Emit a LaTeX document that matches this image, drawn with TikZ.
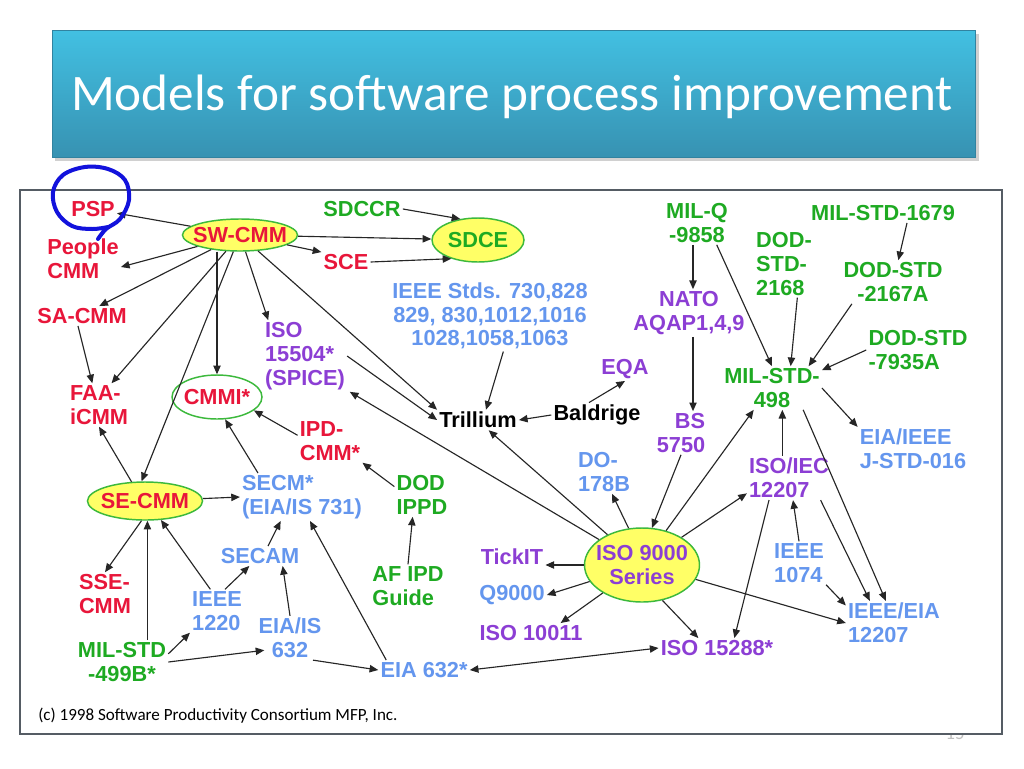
\documentclass[tikz,border=0pt]{standalone}
\usepackage{fontspec}
\setmainfont{Liberation Sans}
\newfontfamily\calibri{Carlito}
\usetikzlibrary{shapes.geometric,arrows.meta}
\definecolor{cred}{RGB}{232,22,58}
\definecolor{cgreen}{RGB}{30,170,34}
\definecolor{cpurple}{RGB}{140,62,212}
\definecolor{cblue}{RGB}{100,150,238}
\definecolor{cyell}{RGB}{255,255,102}
\definecolor{cring}{RGB}{60,185,60}
\definecolor{cpen}{RGB}{18,18,220}
\definecolor{tbtop}{RGB}{66,192,226}
\definecolor{tbbot}{RGB}{55,146,178}
\definecolor{cframe}{RGB}{85,92,100}
\tikzset{
  lbl/.style={font=\bfseries\fontsize{16.3}{17.8}\selectfont, inner sep=1.5pt, align=center},
  tr/.style={lbl, text=cred},
  tg/.style={lbl, text=cgreen},
  tp/.style={lbl, text=cpurple},
  tb/.style={lbl, text=cblue},
  tk/.style={lbl, text=black},
  ell/.style={ellipse, draw=cring, fill=cyell, line width=1.1pt, inner sep=0pt},
  arr/.style={-{Triangle[length=6.5pt,width=5.5pt]}, line width=0.85pt, draw=black!85},
  arrtwo/.style={{Triangle[length=6.5pt,width=5.5pt]}-{Triangle[length=6.5pt,width=5.5pt]}, line width=0.85pt, draw=black!85}
}
\begin{document}
\begin{tikzpicture}[x=0.75pt,y=-0.75pt]
\useasboundingbox (0,0) rectangle (1024,768);
\fill[white] (0,0) rectangle (1024,768);
% title bar
\fill[black!30, opacity=0.6] (55,34) rectangle (979,161);
\shade[top color=tbtop, bottom color=tbbot, draw=tbbot!90!black, line width=0.5pt] (52,30) rectangle (975,157);
\node[font=\calibri\fontsize{38.4}{44}\selectfont, text=white, inner sep=0pt] (title) at (512,97) {Models for software process improvement};
% page number (mostly hidden)
\node[font=\calibri\fontsize{14}{16}\selectfont, text=black!25, inner sep=0pt] (pagenum) at (955,734) {15};
% frame
\draw[cframe, line width=1.5pt, fill=white] (20,190) rectangle (1002,734);
% copyright
\node[anchor=west, font=\calibri\fontsize{12.8}{15}\selectfont, inner sep=0pt] (copy) at (38,716) {(c) 1998 Software Productivity Consortium MFP, Inc.};

% ellipses
\node[ell, minimum width=86.25pt, minimum height=24pt] (swcmm) at (240,235) {};
\node[tr] (swcmmT) at (swcmm) {SW-CMM};
\node[ell, fill=white, minimum width=67.5pt, minimum height=33pt] (cmmi) at (217,397) {};
\node[tr] (cmmiT) at (cmmi) {CMMI*};
\node[ell, minimum width=69pt, minimum height=33pt] (sdce) at (478,240) {};
\node[tg] (sdceT) at (sdce) {SDCE};
\node[ell, minimum width=86.25pt, minimum height=28.5pt] (secmm) at (145,501) {};
\node[tr] (secmmT) at (secmm) {SE-CMM};
\node[ell, minimum width=86.25pt, minimum height=55.5pt] (iso9000) at (642,565) {};
\node[tp] (iso9000T) at (iso9000) {ISO 9000\\Series};

% text nodes
\node[tr] (psp) at (93,209) {PSP};
\node[tr, align=left] (people) at (83,259) {People\\CMM};
\node[tr] (sacmm) at (82,316) {SA-CMM};
\node[tr, align=left] (faa) at (99,405) {FAA-\\iCMM};
\node[tp, align=left] (iso15504) at (305,356) {ISO\\15504*\\(SPICE)};
\node[tg] (sdccr) at (362,209) {SDCCR};
\node[tr] (sce) at (346,262) {SCE};
\node[tb] (ieeestds) at (490,316) {IEEE Stds. 730,828\\829, 830,1012,1016\\1028,1058,1063};
\node[tk] (trillium) at (478,420) {Trillium};
\node[tk] (baldrige) at (597,415) {Baldrige};
\node[tp] (eqa) at (625,369) {EQA};
\node[tg] (milq) at (697,223) {MIL-Q\\-9858};
\node[tp] (nato) at (689,313) {NATO\\AQAP1,4,9};
\node[tp, align=right] (bs5750) at (681,433) {BS\\5750};
\node[tg, align=left] (dod2168) at (784,264) {DOD-\\STD-\\2168};
\node[tg] (mil1679) at (883,213) {MIL-STD-1679};
\node[tg] (dod2167) at (893,282) {DOD-STD\\-2167A};
\node[tg, align=left] (dod7935) at (918,350) {DOD-STD\\-7935A};
\node[tg] (milstd498) at (772,388) {MIL-STD-\\498};
\node[tb, align=left] (eiaieee) at (913,449) {EIA/IEEE\\J-STD-016};
\node[tp, align=left] (iso12207) at (789,478) {ISO/IEC\\12207};
\node[tb, align=left] (ieee1074) at (799,563) {IEEE\\1074};
\node[tb, align=left] (ieeeeia) at (894,623) {IEEE/EIA\\12207};
\node[tp] (iso15288) at (717,648) {ISO 15288*};
\node[tb, align=left] (do178b) at (604,472) {DO-\\178B};
\node[tp] (tickit) at (512,557) {TickIT};
\node[tb] (q9000) at (512,595) {Q9000};
\node[tp] (iso10011) at (531,633) {ISO 10011};
\node[tb] (eia632s) at (424,670) {EIA 632*};
\node[tg, align=left] (afipd) at (408,586) {AF IPD\\Guide};
\node[tg, align=left] (dodippd) at (422,495) {DOD\\IPPD};
\node[tr, align=left] (ipdcmm) at (330,441) {IPD-\\CMM*};
\node[tb, align=left] (secm) at (302,497) {SECM*\\(EIA/IS 731)};
\node[tr, align=left] (ssecmm) at (105,594) {SSE-\\CMM};
\node[tb] (secam) at (260,556) {SECAM};
\node[tb, align=left] (ieee1220) at (217,611) {IEEE\\1220};
\node[tb] (eiais632) at (290,638) {EIA/IS\\632};
\node[tg] (milstd499) at (122,662) {MIL-STD\\-499B*};

% connectors from SW-CMM
\draw[arr] (swcmm) -- (psp);
\draw[arr] (swcmm) -- ([yshift=-6pt]people.east);
\draw[arr] (swcmm) -- (sacmm.30);
\draw[arr] (swcmm) -- (faa.60);
\draw[arr] (swcmm) -- (secmm.100);
\draw[arr] (cmmi.north |- swcmm.south) -- (cmmi.north);
\draw[arr] (swcmm) -- ([xshift=4pt]iso15504.north west);
\draw[arr] (swcmm) -- (trillium.north west);
\draw[arr] (swcmm) -- (sce.north west);
\draw[arr] (swcmm) -- (sdce);
\draw[arr] (sdccr.east) -- (sdce.130);
\draw[arr] (sce.east) -- (sdce.215);
% left cluster
\draw[arr] ([xshift=-3pt]sacmm.south) -- ([xshift=-5pt]faa.north);
\draw[arr] (secmm.125) -- (faa.south);
\draw[arr] (secmm.-100) -- (ssecmm.north);
\draw[arr] (secmm) -- (secm.west);
\draw[arr] (secmm.-83 |- milstd499.north) -- (secmm.-83);
\draw[arr] ([xshift=-5pt]ieee1220.north) -- (secmm.-50);
\draw[arr] ([xshift=6pt]ieee1220.north) -- ([xshift=-8pt]secam.south);
\draw[arr] (milstd499.10) -- (ieee1220.south west);
\draw[arr] (milstd499.east) -- ([xshift=6pt]eiais632.200);
\draw[arr] (eiais632.north) -- ([xshift=17pt]secam.south);
\draw[arr] ([xshift=6pt]secam.north) -- ([xshift=-16pt]secm.south);
\draw[arr] ([xshift=-8pt]eiais632.south east) -- (eia632s.west);
\draw[arr] ([xshift=6pt]eia632s.north west) -- ([xshift=6pt]secm.south);
\draw[arr] ([xshift=-33pt]secm.north) -- (cmmi.-70);
\draw[arr] ([yshift=-12pt]ipdcmm.north west) -- (cmmi.-20);
\draw[arr] ([yshift=-10pt]dodippd.north west) -- (ipdcmm.south east);
\draw[arr] (afipd.north) -- ([xshift=-7pt]dodippd.south);
\draw[arrtwo] (eia632s.east) -- (iso15288.west);
% Trillium cluster
\draw[arr] (iso15504.east) -- (trillium.west);
\draw[arr] (iso9000) -- ([xshift=2pt]iso15504.south east);
\draw[arr] (iso9000) -- ([xshift=8pt]trillium.south);
\draw[arr] ([xshift=10pt]ieeestds.south) -- ([xshift=6pt]trillium.north);
\draw[arr] (baldrige.west) -- (trillium.east);
\draw[arr] ([xshift=-6pt]baldrige.north) -- (eqa.south);
% ISO 9000 cluster
\draw[arr] (iso9000.110) -- ([xshift=6pt]do178b.south);
\draw[arr] (bs5750.south) -- (iso9000.75);
\draw[arr] ([xshift=3pt]nato.north |- milq.south) -- ([xshift=3pt]nato.north);
\draw[arr] ([xshift=3pt]nato.south) -- ([xshift=3pt]nato.south |- bs5750.north);
\draw[arr] ([xshift=-10pt]milq.south east) -- (milstd498.north);
\draw[arr] ([xshift=10pt]dod2168.south) -- ([xshift=14pt]milstd498.north);
\draw[arr] ([xshift=18pt]mil1679.south) -- ([xshift=4pt]dod2167.north);
\draw[arr] ([xshift=8pt]dod2167.south west) -- ([xshift=-10pt]milstd498.north east);
\draw[arr] (dod7935.west) -- ([yshift=-3pt]milstd498.north east);
\draw[arr] (milstd498.east) -- (eiaieee.north west);
\draw[arr] (iso9000.55) -- (milstd498.-130);
\draw[arr] ([xshift=-5pt]iso12207.north) -- ([xshift=-5pt]iso12207.north |- milstd498.south);
\draw[arr] (milstd498.-35) -- ([xshift=30pt]ieeeeia.north west);
\draw[arr] (iso9000.35) -- (iso12207.200);
\draw[arr] (iso12207.-35) -- ([xshift=18pt]ieeeeia.north west);
\draw[arr] ([xshift=-15pt]iso12207.south) -- ([xshift=13pt]iso15288.north);
\draw[arr] (ieee1074.north) -- ([xshift=3pt]iso12207.south);
\draw[arr] (ieee1074.south east) -- (ieeeeia.160);
\draw[arr] (iso9000.-15) -- (ieeeeia.west);
\draw[arr] (iso9000.-60) -- ([xshift=-14pt]iso15288.north);
\draw[arr] (iso9000.west) -- (iso9000.west -| tickit.east);
\draw[arr] (iso9000) -- (q9000.east);
\draw[arr] (iso9000) -- ([xshift=-18pt]iso10011.north east);

% hand-drawn blue ring around PSP
\draw[cpen, line width=3pt, line cap=round, line join=round] plot[smooth, tension=0.6] coordinates {(98,239) (106,229) (120,219) (129,200) (125,180) (108,169) (85,167) (63,175) (53,192) (57,212) (72,226) (92,229) (108,227)};
\end{tikzpicture}
\end{document}
